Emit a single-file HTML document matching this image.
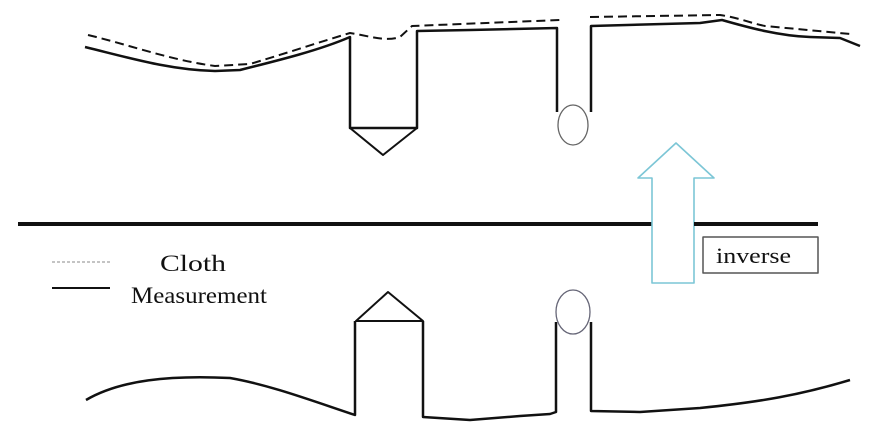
<!DOCTYPE html>
<html><head><style>
html,body{margin:0;padding:0;background:#fff;}
svg{display:block;}
text{font-family:"Liberation Serif",serif;fill:#111;}
</style></head><body>
<svg width="886" height="435" viewBox="0 0 886 435" xmlns="http://www.w3.org/2000/svg">
<g fill="none" stroke="#111" stroke-linejoin="round">
<path d="M88,35 C130,45 170,60 215,66 L250,64 C290,52 320,42 350,33 C370,36 385,42 400,37 L412,26 L560,20 M590,17 L720,15 C740,18 750,23 765,26 L850,34" stroke-width="2" stroke-dasharray="9,5"/>
<path d="M85,47 C130,58 170,70 215,71 L240,70 C280,60 320,50 350,37 L350,128 L417,128 L417,31 L470,30 L557,28 L557,112" stroke-width="2.5"/>
<path d="M591,112 L591,26 L700,23 L722,20 C750,28 780,36 810,37 L840,38 L860,46" stroke-width="2.5"/>
<path d="M350,128 L383,155 L417,128" stroke-width="2"/>
<ellipse cx="573" cy="125" rx="15" ry="20" stroke="#666" stroke-width="1.3"/>
<line x1="18" y1="224" x2="818" y2="224" stroke-width="4"/>
<path d="M652,283 L652,178 L638,178 L676,143 L714,178 L694,178 L694,283 Z" stroke="#7cc6d6" stroke-width="1.6" fill="#fff"/>
<line x1="694" y1="224" x2="703" y2="224" stroke-width="4"/>
<rect x="703" y="237" width="115" height="36" stroke="#555" stroke-width="1.5" fill="#fff"/>
<line x1="52" y1="262" x2="110" y2="262" stroke="#888" stroke-width="1" stroke-dasharray="3,2"/>
<line x1="52" y1="288" x2="110" y2="288" stroke-width="2"/>
<path d="M388,292 L356,321 L423,321 Z" stroke-width="2"/>
<path d="M86,400 C120,380 170,375 230,378 C270,385 310,400 355,415 L355,321 M423,321 L423,417 L470,420 L520,416 L550,414 L556,412 L556,322" stroke-width="2.5"/>
<path d="M591,322 L591,411 L640,412 L700,408 C760,402 800,395 850,380" stroke-width="2.5"/>
<ellipse cx="573" cy="312" rx="17" ry="22" stroke="#667" stroke-width="1.3"/>
</g>
<text x="160" y="271" font-size="23" textLength="66" lengthAdjust="spacingAndGlyphs">Cloth</text>
<text x="131" y="303" font-size="23" textLength="136" lengthAdjust="spacingAndGlyphs">Measurement</text>
<text x="716" y="263" font-size="22" textLength="75" lengthAdjust="spacingAndGlyphs">inverse</text>
</svg>
</body></html>
